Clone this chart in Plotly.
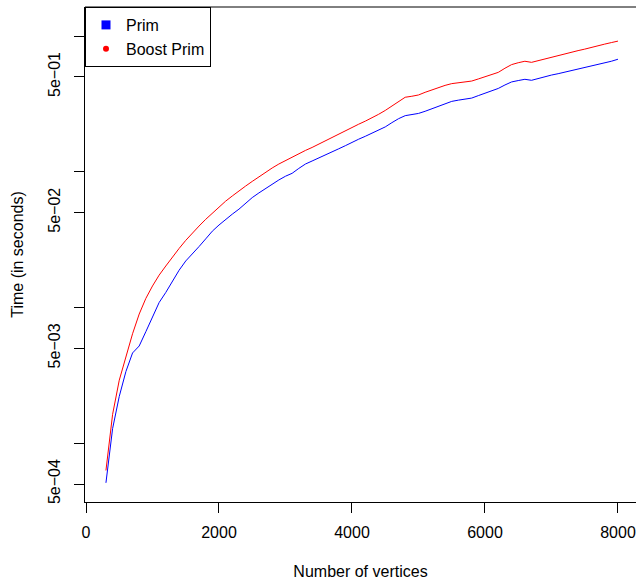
import plotly.graph_objects as go

vertices = [300, 400, 500, 600, 700, 800, 900, 1000, 1100, 1200, 1300, 1400, 1500,
            1600, 1700, 1800, 1900, 2000, 2100, 2200, 2300, 2400, 2500, 2600, 2700,
            2800, 2900, 3000, 3100, 3200, 3300, 3400, 3500, 3600, 3700, 3800, 3900,
            4000, 4100, 4200, 4300, 4400, 4500, 4600, 4700, 4800, 4900, 5000, 5100,
            5200, 5300, 5400, 5500, 5600, 5700, 5800, 5900, 6000, 6100, 6200, 6300,
            6400, 6500, 6600, 6700, 6800, 6900, 7000, 7100, 7200, 7300, 7400, 7500,
            7600, 7700, 7800, 7900, 8000]

prim = [5.1e-4, 1.28e-3, 2.21e-3, 3.37e-3, 4.62e-3, 5.2e-3, 6.63e-3, 8.41e-3,
        1.087e-2, 1.29e-2, 1.56e-2, 1.88e-2, 2.2e-2, 2.47e-2, 2.81e-2, 3.2e-2,
        3.65e-2, 4.05e-2, 4.47e-2, 4.87e-2, 5.3e-2, 5.85e-2, 6.45e-2, 6.98e-2,
        7.53e-2, 8.1e-2, 8.7e-2, 9.27e-2, 9.74e-2, 1.058e-1, 1.14e-1, 1.2e-1,
        1.26e-1, 1.33e-1, 1.40e-1, 1.476e-1, 1.556e-1, 1.65e-1, 1.737e-1, 1.825e-1,
        1.92e-1, 2.02e-1, 2.14e-1, 2.30e-1, 2.46e-1, 2.59e-1, 2.65e-1, 2.69e-1,
        2.79e-1, 2.91e-1, 3.03e-1, 3.17e-1, 3.30e-1, 3.37e-1, 3.42e-1, 3.49e-1,
        3.64e-1, 3.79e-1, 3.94e-1, 4.11e-1, 4.36e-1, 4.59e-1, 4.70e-1, 4.80e-1,
        4.72e-1, 4.88e-1, 5.03e-1, 5.16e-1, 5.28e-1, 5.42e-1, 5.57e-1, 5.72e-1,
        5.85e-1, 6.0e-1, 6.15e-1, 6.32e-1, 6.52e-1, 6.75e-1]

boost_prim = [6.29e-4, 1.63e-3, 2.91e-3, 4.38e-3, 6.4e-3, 8.94e-3, 1.166e-2, 1.44e-2,
              1.73e-2, 2.02e-2, 2.36e-2, 2.72e-2, 3.12e-2, 3.54e-2, 3.98e-2, 4.46e-2,
              4.97e-2, 5.5e-2, 6.07e-2, 6.63e-2, 7.24e-2, 7.84e-2, 8.49e-2, 9.18e-2,
              9.89e-2, 1.066e-1, 1.14e-1, 1.21e-1, 1.28e-1, 1.354e-1, 1.436e-1, 1.51e-1,
              1.6e-1, 1.70e-1, 1.79e-1, 1.90e-1, 2.01e-1, 2.13e-1, 2.24e-1, 2.36e-1,
              2.49e-1, 2.65e-1, 2.83e-1, 3.05e-1, 3.29e-1, 3.54e-1, 3.60e-1, 3.68e-1,
              3.85e-1, 4.02e-1, 4.19e-1, 4.33e-1, 4.46e-1, 4.52e-1, 4.58e-1, 4.66e-1,
              4.83e-1, 5.0e-1, 5.18e-1, 5.40e-1, 5.79e-1, 6.16e-1, 6.36e-1, 6.52e-1,
              6.40e-1, 6.59e-1, 6.80e-1, 7.01e-1, 7.23e-1, 7.42e-1, 7.62e-1, 7.81e-1,
              8.01e-1, 8.26e-1, 8.53e-1, 8.72e-1, 8.95e-1, 9.18e-1]

x_ticks = [0, 2000, 4000, 6000, 8000]
y_ticks = [5e-4, 1e-3, 5e-3, 1e-2, 5e-2, 1e-1, 5e-1, 1.0]
y_tick_text = ["5e\u221204", "", "5e\u221203", "", "5e\u221202", "", "5e\u221201", ""]

FONT = "Liberation Sans, Arial, Helvetica, sans-serif"

fig = go.Figure()
fig.add_trace(go.Scatter(x=vertices, y=prim, mode="lines",
                         line=dict(color="#0000FF", width=1), showlegend=False))
fig.add_trace(go.Scatter(x=vertices, y=boost_prim, mode="lines",
                         line=dict(color="#FF0000", width=1), showlegend=False))
# legend entries (symbols like the original)
fig.add_trace(go.Scatter(x=[None], y=[None], mode="markers", name="Prim",
                         marker=dict(symbol="square", color="#0000FF", size=9)))
fig.add_trace(go.Scatter(x=[None], y=[None], mode="markers", name="Boost Prim",
                         marker=dict(symbol="circle", color="#FF0000", size=6)))

fig.update_layout(
    width=636, height=581,
    margin=dict(l=85, r=0, t=7, b=79, pad=0),
    paper_bgcolor="white", plot_bgcolor="white",
    font=dict(family=FONT, size=16, color="black"),
    showlegend=True,
    legend=dict(x=0, y=1, xanchor="left", yanchor="top",
                bordercolor="black", borderwidth=1, bgcolor="white",
                font=dict(size=16), itemwidth=30, tracegroupgap=0),
    xaxis=dict(range=[-15, 8271], tickvals=x_ticks, ticktext=[str(v) for v in x_ticks],
               showgrid=False, zeroline=False, showline=True, linecolor="black",
               linewidth=1, ticks="outside", ticklen=10, tickcolor="black",
               ticklabelstandoff=6, tickfont=dict(size=16),
               title=dict(text="Number of vertices", standoff=25,
                          font=dict(size=16))),
    yaxis=dict(type="log", range=[-3.4337, 0.2141], tickvals=y_ticks,
               ticktext=y_tick_text, tickangle=-90,
               showgrid=False, zeroline=False, showline=True, linecolor="black",
               linewidth=1, ticks="outside", ticklen=10, tickcolor="black",
               ticklabelstandoff=8, tickfont=dict(size=16),
               title=dict(text="Time (in seconds)", standoff=17,
                          font=dict(size=16))),
    shapes=[dict(type="line", xref="paper", yref="paper", x0=0, x1=1, y0=1, y1=1,
                 line=dict(color="black", width=1))],
)

fig.write_html(
    "out.html",
    config={"displayModeBar": False},
    post_script="document.body.style.margin='0';document.body.style.overflow='hidden';",
)
